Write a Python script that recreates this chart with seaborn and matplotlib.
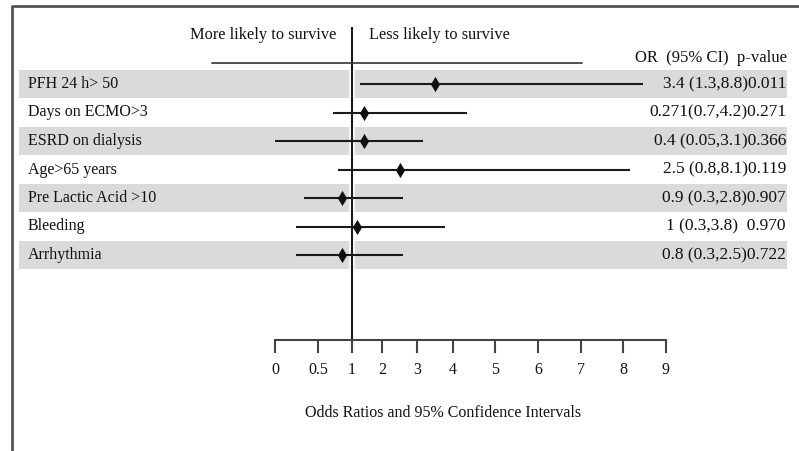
import numpy as np
import pandas as pd
import matplotlib
matplotlib.use("Agg")
import matplotlib.pyplot as plt
import matplotlib.transforms as mtransforms
from matplotlib.lines import Line2D
from matplotlib.patches import Rectangle
import seaborn as sns

# ---------------- data ----------------
factors = ["PFH 24 h> 50", "Days on ECMO>3", "ESRD on dialysis", "Age>65 years",
           "Pre Lactic Acid >10", "Bleeding", "Arrhythmia"]
odds_ratio = [3.5, 1.4, 1.4, 2.5, 0.85, 1.15, 0.85]
ci_low = [1.27, 0.72, 0.0, 0.8, 0.34, 0.24, 0.24]
ci_high = [8.47, 4.33, 3.17, 8.16, 2.6, 3.78, 2.6]
stat_text = ["3.4 (1.3,8.8)0.011", "0.271(0.7,4.2)0.271", "0.4 (0.05,3.1)0.366",
             "2.5 (0.8,8.1)0.119", "0.9 (0.3,2.8)0.907", "1 (0.3,3.8)  0.970",
             "0.8 (0.3,2.5)0.722"]
tick_values = [0, 0.5, 1, 2, 3, 4, 5, 6, 7, 8, 9]
tick_labels = ["0", "0.5", "1", "2", "3", "4", "5", "6", "7", "8", "9"]
# irregular spacing of the printed axis (relative pixel offsets)
tick_offsets = [0, 43, 77, 107, 142, 178, 220, 263, 306, 348, 391]

df = pd.DataFrame({"factor": factors, "or": odds_ratio, "lo": ci_low, "hi": ci_high,
                   "row": np.arange(len(factors))})

# ---------------- style ----------------
sns.set_theme(style="white")
plt.rcParams["font.family"] = ["Liberation Serif", "DejaVu Serif"]
TXT = "#111111"
BAND = "#dadada"

W, H = 799, 451
fig = plt.figure(figsize=(W / 100, H / 100), dpi=100)


def fx(px):
    return px / W


def fy(py):
    return 1 - py / H


ax = fig.add_axes([fx(275), fy(340), fx(666) - fx(275), fy(27) - fy(340)])


def fwd(v):
    return np.interp(v, tick_values, tick_offsets)


def inv(p):
    return np.interp(p, tick_offsets, tick_values)


ax.set_xscale("function", functions=(fwd, inv))

# bands
blend = mtransforms.blended_transform_factory(fig.transFigure, ax.transData)
for r in df["row"]:
    if r % 2 == 0:
        ax.add_patch(Rectangle((fx(19), r - 0.49), fx(787) - fx(19), 0.98,
                               transform=blend, facecolor=BAND, edgecolor="none",
                               clip_on=False, zorder=0))

# reference line at OR = 1
ax.axvline(1, color="white", lw=4, zorder=1)
ax.axvline(1, color="#1a1a1a", lw=1.5, zorder=2)

# confidence intervals and point estimates
ax.hlines(df["row"], df["lo"], df["hi"], color="#1a1a1a", lw=1.5, zorder=3)
sns.scatterplot(data=df, x="or", y="row", marker="d", s=60, color="#111111",
                linewidth=0, ax=ax, zorder=4, legend=False)

ax.set_xlim(0, 9)
ax.set_ylim((340 - 84) / 28.5, (27 - 84) / 28.5)
ax.set_xticks(tick_values)
ax.set_xticklabels(tick_labels)
ax.set_yticks([])
ax.set_ylabel("")
for s in ["left", "top", "right"]:
    ax.spines[s].set_visible(False)
ax.spines["bottom"].set_color("#444444")
ax.spines["bottom"].set_linewidth(1.5)
ax.tick_params(axis="x", bottom=True, direction="out", length=9, width=1.5,
               color="#444444", pad=7, labelsize=11.5, labelcolor=TXT)
ax.set_facecolor("none")

ax.set_xlabel("Odds Ratios and 95% Confidence Intervals", fontsize=11.5,
              color=TXT)
ax.xaxis.set_label_coords((443 - 275) / 391, (340 - 405) / 313)

# row labels and statistics
for r, name, st in zip(df["row"], factors, stat_text):
    ax.text(fx(28), r, name, transform=blend, ha="left", va="center",
            fontsize=11.5, color=TXT)
    ax.text(fx(786), r, st, transform=blend, ha="right", va="center",
            fontsize=12.5, color=TXT)

# headers
fig.text(fx(336), fy(35), "More likely to survive", ha="right", va="center",
         fontsize=11.8, color=TXT)
fig.text(fx(369), fy(35), "Less likely to survive", ha="left", va="center",
         fontsize=11.8, color=TXT)
fig.text(fx(787), fy(58), "OR  (95% CI)  p-value", ha="right", va="center",
         fontsize=12, color=TXT)
fig.add_artist(Line2D([fx(212), fx(582)], [fy(63), fy(63)],
                      transform=fig.transFigure, color="#333333", lw=1.2))

# frame (top and left edges of the original box)
fig.add_artist(Line2D([fx(12), fx(12), 1.0], [0.0, fy(6), fy(6)],
                      transform=fig.transFigure, color="#555555", lw=2))

fig.savefig("out.png", dpi=100)
